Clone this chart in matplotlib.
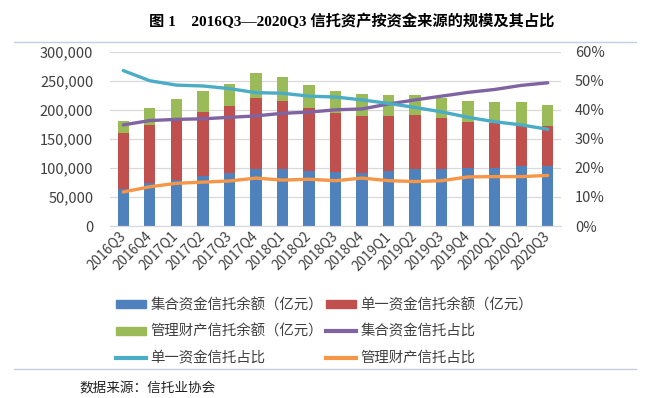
import numpy as np
import matplotlib
matplotlib.use('Agg')
import matplotlib.pyplot as plt
from matplotlib.patches import Patch
from matplotlib.lines import Line2D
from matplotlib.ticker import FuncFormatter

plt.rcParams['font.family'] = ['Noto Sans CJK SC', 'DejaVu Sans']

# Data (亿元 and 占比 %)
quarters = ['2016Q3', '2016Q4', '2017Q1', '2017Q2', '2017Q3', '2017Q4', '2018Q1', '2018Q2', '2018Q3',
            '2018Q4', '2019Q1', '2019Q2', '2019Q3', '2019Q4', '2020Q1', '2020Q2', '2020Q3']
jihe = [63100, 73400, 79200, 85500, 90600, 98100, 98100, 94600, 92400,
        90600, 94600, 98100, 97800, 99200, 100300, 102600, 102600]
danyi = [96400, 100400, 107200, 110700, 115900, 121600, 117600, 108500, 102600,
         99300, 95300, 92300, 87400, 79700, 76300, 69400, 68800]
guanli = [21800, 28700, 32700, 35500, 37900, 43000, 40100, 39500, 36700,
          37300, 35500, 35000, 35600, 36700, 36700, 41300, 37300]
jihe_pct = [34.8, 36.3, 36.7, 36.9, 37.4, 37.9, 38.8, 39.2, 40.0,
            40.3, 42.0, 43.4, 44.7, 46.0, 47.0, 48.4, 49.3]
danyi_pct = [53.5, 50.0, 48.5, 48.2, 47.3, 45.9, 45.7, 44.7, 44.4,
             43.4, 42.2, 40.8, 39.3, 37.4, 35.9, 34.8, 33.3]
guanli_pct = [11.7, 13.5, 14.7, 15.1, 15.5, 16.5, 15.8, 16.1, 15.6,
              16.5, 15.6, 15.3, 15.6, 16.9, 17.0, 17.0, 17.4]

# Colors (office palette)
c_blue, c_red, c_green = '#4F81BD', '#C0504D', '#9BBB59'
c_purple, c_cyan, c_orange = '#8064A2', '#4BACC6', '#F79646'
txt = '#404040'

W, H = 647, 398
fig = plt.figure(figsize=(W / 100, H / 100), dpi=100)
ax = fig.add_axes([110 / W, 1 - 226 / H, 451 / W, 174.3 / H])
ax2 = ax.twinx()

x = np.arange(len(quarters))
bw = 0.43
b1 = np.array(jihe)
b2 = np.array(danyi)
b3 = np.array(guanli)
ax.bar(x, b1, bw, color=c_blue, zorder=2)
ax.bar(x, b2, bw, bottom=b1, color=c_red, zorder=2)
ax.bar(x, b3, bw, bottom=b1 + b2, color=c_green, zorder=2)

ax.set_xlim(-0.5, len(quarters) - 0.5)
ax.set_ylim(0, 300000)
ax.set_yticks(np.arange(0, 300001, 50000))
ax.yaxis.set_major_formatter(FuncFormatter(lambda v, p: '{:,.0f}'.format(v)))
ax.yaxis.grid(True, color='#D9D9D9', lw=0.9, zorder=0)
ax.set_axisbelow(True)
ax.set_xticks(x)
ax.set_xticklabels(quarters, rotation=45, ha='right', va='center', rotation_mode='anchor')
ax.tick_params(axis='y', length=0, pad=12, labelsize=10.5, colors=txt)
ax.tick_params(axis='x', length=0, pad=6, labelsize=9.8, colors=txt)

# Share lines on right axis
ax2.plot(x, np.array(jihe_pct) / 100, color=c_purple, lw=2.4, solid_capstyle='round')
ax2.plot(x, np.array(danyi_pct) / 100, color=c_cyan, lw=2.4, solid_capstyle='round')
ax2.plot(x, np.array(guanli_pct) / 100, color=c_orange, lw=2.4, solid_capstyle='round')
ax2.set_ylim(0, 0.6)
ax2.set_yticks(np.arange(0, 0.61, 0.1))
ax2.yaxis.set_major_formatter(FuncFormatter(lambda v, p: '{:.0f}%'.format(v * 100)))
ax2.tick_params(axis='y', length=0, pad=10, labelsize=10.5, colors=txt)

for a in (ax, ax2):
    for s in ['left', 'right', 'top']:
        a.spines[s].set_visible(False)
    a.spines['bottom'].set_color('#D9D9D9')

# Legend (column-wise fill)
handles = [Patch(color=c_blue), Patch(color=c_green), Line2D([], [], color=c_cyan, lw=3),
           Patch(color=c_red), Line2D([], [], color=c_purple, lw=3), Line2D([], [], color=c_orange, lw=3)]
labels = ['集合资金信托余额（亿元）', '管理财产信托余额（亿元）', '单一资金信托占比',
          '单一资金信托余额（亿元）', '集合资金信托占比', '管理财产信托占比']
fig.legend(handles, labels, ncol=2, loc='upper left', bbox_to_anchor=(116 / W, 1 - 298 / H),
           frameon=False, fontsize=10.4, handlelength=2.07, handleheight=0.5, handletextpad=0.3,
           columnspacing=0.25, labelspacing=0.86, borderpad=0, borderaxespad=0, labelcolor=txt)

# Title, separator lines and source
fig.text(352 / W, 1 - 21.7 / H, '图 1    2016Q3—2020Q3 信托资产按资金来源的规模及其占比',
         ha='center', va='center', fontsize=11.0, fontweight='bold',
         family=['Liberation Serif', 'Noto Sans CJK SC'])
fig.add_artist(Line2D([14 / W, 636 / W], [1 - 42.3 / H] * 2, color='#BDD0EA', lw=1))
fig.add_artist(Line2D([14 / W, 636 / W], [1 - 369.3 / H] * 2, color='#C5CFE0', lw=1))
fig.text(79 / W, 1 - 388 / H, '数据来源：信托业协会', ha='left', va='center', fontsize=9.8, color='#222222')

fig.savefig('out.png', dpi=100)
